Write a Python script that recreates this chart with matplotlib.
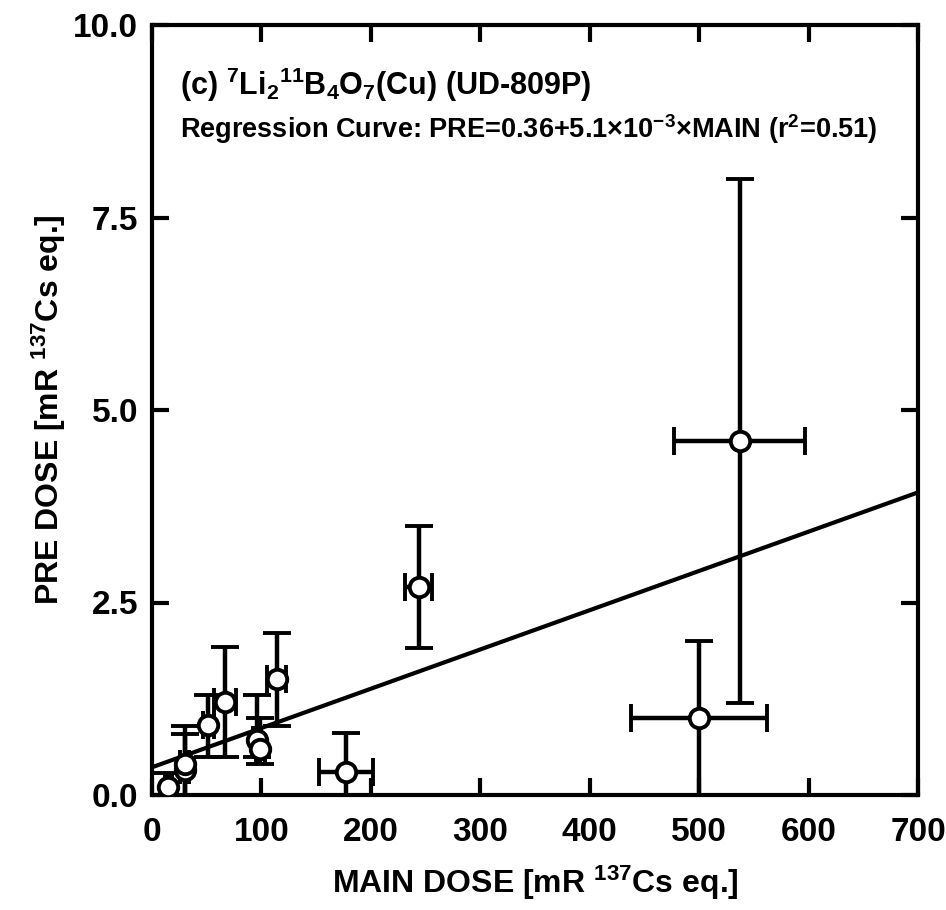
import matplotlib
matplotlib.use("Agg")
import matplotlib.pyplot as plt
import numpy as np

plt.rcParams['font.family'] = ['Liberation Sans', 'DejaVu Sans']
plt.rcParams['font.weight'] = 'bold'
plt.rcParams['mathtext.fontset'] = 'custom'
plt.rcParams['mathtext.rm'] = 'Liberation Sans:bold'
plt.rcParams['mathtext.it'] = 'Liberation Sans:bold'
plt.rcParams['mathtext.bf'] = 'Liberation Sans:bold'
plt.rcParams['mathtext.default'] = 'rm'

# data: MAIN dose, PRE dose, errors
main_dose = [14.9, 30, 30, 51.3, 66.6, 96, 99, 113.8, 177.5, 243.6, 500, 537]
pre_dose = [0.11, 0.32, 0.40, 0.91, 1.21, 0.72, 0.60, 1.51, 0.30, 2.70, 1.00, 4.60]
main_err = [3, 4, 4, 5, 10, 4, 4, 9, 24.5, 12, 62, 60]
pre_err_low = [0.11, 0.32, 0.40, 0.42, 0.72, 0.23, 0.20, 0.61, 0.30, 0.79, 1.00, 3.40]
pre_err_high = [0.17, 0.47, 0.49, 0.39, 0.71, 0.58, 0.40, 0.60, 0.50, 0.79, 1.00, 3.40]

intercept = 0.36
slope = 5.1e-3

x_ticks = [0, 100, 200, 300, 400, 500, 600, 700]
y_ticks = [0.0, 2.5, 5.0, 7.5, 10.0]
y_tick_labels = ['0.0', '2.5', '5.0', '7.5', '10.0']

fig = plt.figure(figsize=(9.46, 9.10), dpi=100)
ax = fig.add_axes([152/946, 1 - 795/910, (918-152)/946, (795-25)/910])

xx = np.array([0, 700])
ax.plot(xx, intercept + slope * xx, color='black', lw=3.0, zorder=2)

ax.errorbar(main_dose, pre_dose, xerr=main_err,
            yerr=[pre_err_low, pre_err_high],
            fmt='o', color='black', ecolor='black', elinewidth=3.2,
            capsize=10, capthick=3.2, markersize=14, markerfacecolor='white',
            markeredgecolor='black', markeredgewidth=2.8, zorder=3)

ax.set_xlim(0, 700)
ax.set_ylim(0, 10)
ax.set_xticks(x_ticks)
ax.set_xticklabels([str(v) for v in x_ticks])
ax.set_yticks(y_ticks)
ax.set_yticklabels(y_tick_labels)
ax.tick_params(direction='in', length=12, width=3.0, top=True, right=True,
               labelsize=24, pad=10)
ax.tick_params(axis='x', pad=16)
for lab in ax.get_xticklabels() + ax.get_yticklabels():
    lab.set_fontweight('bold')
for s in ax.spines.values():
    s.set_linewidth(3.0)

ax.set_xlabel(r'MAIN DOSE [mR $^{137}$Cs eq.]', fontsize=23, fontweight='bold', labelpad=11)
ax.set_ylabel(r'PRE DOSE [mR $^{137}$Cs eq.]', fontsize=23, fontweight='bold', labelpad=4)

ax.text(0.037, 0.909, r'(c) $^{7}$Li$_{2}$$^{11}$B$_{4}$O$_{7}$(Cu) (UD-809P)',
        transform=ax.transAxes, fontsize=22, fontweight='bold', ha='left', va='baseline')
ax.text(0.037, 0.853, r'Regression Curve: PRE=0.36+5.1$\times$10$^{-3}$$\times$MAIN (r$^{2}$=0.51)',
        transform=ax.transAxes, fontsize=19.5, fontweight='bold', ha='left', va='baseline')

fig.savefig('out.png', dpi=100)
